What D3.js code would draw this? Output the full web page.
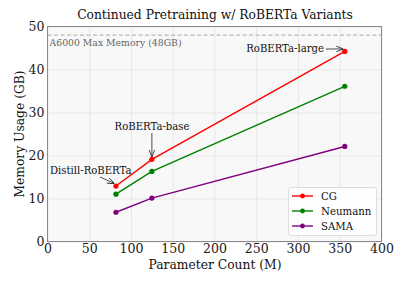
<!DOCTYPE html>
<html><head><meta charset="utf-8">
<script src="https://cdn.jsdelivr.net/npm/d3@7"></script>
<style>body{margin:0;background:#fff}svg{display:block}text{font-family:"DejaVu Serif",serif}</style>
</head><body>
<svg id="c" width="407" height="285"></svg>
<script>
const params = [82, 125, 356];
const models = ["Distill-RoBERTa", "RoBERTa-base", "RoBERTa-large"];
const cg = [12.9, 19.1, 44.2];
const neumann = [11.0, 16.3, 36.1];
const sama = [6.8, 10.1, 22.1];
const seriesNames = ["CG", "Neumann", "SAMA"];
const seriesColors = ["#ff0000", "#008000", "#800080"];
const xTicks = [0, 50, 100, 150, 200, 250, 300, 350, 400];
const yTicks = [0, 10, 20, 30, 40, 50];
const maxMem = 48;

const svg = d3.select("#c");
const L = 47.5, R = 381.5, T = 26.5, B = 241.5;
const x = d3.scaleLinear().domain([0, 400]).range([L, R]);
const y = d3.scaleLinear().domain([0, 50]).range([B, T]);

svg.append("rect").attr("x", L).attr("y", T).attr("width", R - L).attr("height", B - T).attr("fill", "#f8f8f8");

const gx = svg.append("g").attr("transform", `translate(0,${B})`)
  .call(d3.axisBottom(x).tickValues(xTicks).tickSize(-(B - T)).tickPadding(3));
const gy = svg.append("g").attr("transform", `translate(${L},0)`)
  .call(d3.axisLeft(y).tickValues(yTicks).tickSize(-(R - L)).tickPadding(3));
[gx, gy].forEach(g => {
  g.select(".domain").remove();
  g.selectAll(".tick line").attr("stroke", "#e3e3e3").attr("stroke-width", 0.8);
  g.selectAll(".tick text").attr("font-family", "DejaVu Serif").attr("font-size", 12.5).attr("fill", "#1a1a1a");
});

// max memory line
svg.append("line").attr("x1", L).attr("x2", R).attr("y1", y(maxMem)).attr("y2", y(maxMem))
  .attr("stroke", "#aaaaaa").attr("stroke-width", 1).attr("stroke-dasharray", "4,2.5");
svg.append("text").attr("x", L + 2).attr("y", y(maxMem) + 10.5).attr("font-size", 9.3).attr("fill", "#666")
  .text("A6000 Max Memory (" + maxMem + "GB)");

svg.append("rect").attr("x", L).attr("y", T).attr("width", R - L).attr("height", B - T)
  .attr("fill", "none").attr("stroke", "#8a8a8a").attr("stroke-width", 1);

const all = [cg, neumann, sama];
const line = d3.line().x((d, i) => x(params[i])).y(d => y(d));
all.forEach((s, k) => {
  svg.append("path").datum(s).attr("d", line).attr("fill", "none").attr("stroke", seriesColors[k]).attr("stroke-width", 1.4);
  svg.selectAll(null).data(s).enter().append("circle")
    .attr("cx", (d, i) => x(params[i])).attr("cy", d => y(d)).attr("r", 2.6).attr("fill", seriesColors[k]);
});

// arrows
const defs = svg.append("defs");
defs.append("marker").attr("id", "ah").attr("viewBox", "0 0 10 10").attr("refX", 10).attr("refY", 5)
  .attr("markerWidth", 7).attr("markerHeight", 7).attr("orient", "auto-start-reverse").attr("markerUnits", "userSpaceOnUse")
  .append("path").attr("d", "M0,1 L10,5 L0,9").attr("fill", "none").attr("stroke", "#222").attr("stroke-width", 1.2);

function annot(txt, tx, ty, anchor, ax1, ay1, i) {
  svg.append("text").attr("x", tx).attr("y", ty).attr("text-anchor", anchor).attr("dominant-baseline", "central")
    .attr("font-size", 10.1).attr("fill", "#111").text(txt);
  svg.append("line").attr("x1", ax1).attr("y1", ay1).attr("x2", x(params[i]) - (i===1?0:1.5)).attr("y2", y(cg[i]) - 2.5)
    .attr("stroke", "#222").attr("stroke-width", 0.8).attr("marker-end", "url(#ah)");
}
annot(models[0], 50, 170, "start", 100, 177, 0);
annot(models[1], 152, 126, "middle", x(params[1]), 133, 1);
annot(models[2], 324, 48.5, "end", 326, 49, 2);

// legend
const lg = svg.append("g");
lg.append("rect").attr("x", 288.5).attr("y", 187.5).attr("width", 88).attr("height", 48).attr("rx", 2.5)
  .attr("fill", "#fff").attr("fill-opacity", 0.85).attr("stroke", "#d6d6d6").attr("stroke-width", 0.8);
seriesNames.forEach((n, k) => {
  const yy = 196 + k * 15;
  lg.append("line").attr("x1", 292).attr("x2", 313).attr("y1", yy).attr("y2", yy).attr("stroke", seriesColors[k]).attr("stroke-width", 1.4);
  lg.append("circle").attr("cx", 302.5).attr("cy", yy).attr("r", 2.4).attr("fill", seriesColors[k]);
  lg.append("text").attr("x", 321).attr("y", yy).attr("dominant-baseline", "central").attr("font-size", 10.2).attr("fill", "#111").text(n);
});

// titles
svg.append("text").attr("x", (L + R) / 2 + 0.5).attr("y", 18.5).attr("text-anchor", "middle").attr("font-size", 12.3).attr("fill", "#111")
  .text("Continued Pretraining w/ RoBERTa Variants");
svg.append("text").attr("x", (L + R) / 2 + 0.5).attr("y", 268.5).attr("text-anchor", "middle").attr("font-size", 12.3).attr("fill", "#111")
  .text("Parameter Count (M)");
svg.append("text").attr("transform", `translate(24,${(T + B) / 2}) rotate(-90)`).attr("text-anchor", "middle").attr("font-size", 12.3).attr("fill", "#111")
  .text("Memory Usage (GB)");
</script>
</body></html>
